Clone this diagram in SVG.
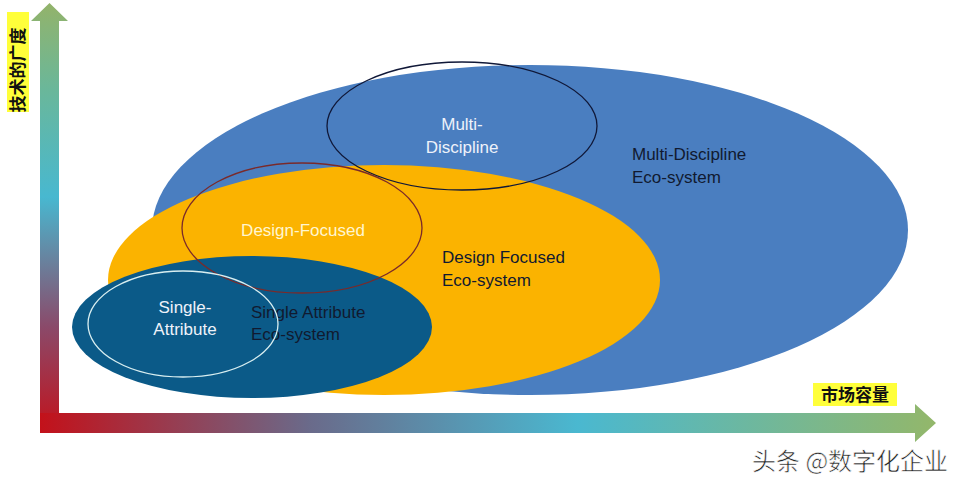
<svg xmlns="http://www.w3.org/2000/svg" width="966" height="486" viewBox="0 0 966 486">
<defs>
<linearGradient id="gv" x1="0" y1="0" x2="0" y2="1">
<stop offset="0" stop-color="#93b36a"/>
<stop offset="0.2" stop-color="#6ab79a"/>
<stop offset="0.45" stop-color="#48b8d0"/>
<stop offset="0.75" stop-color="#8a4a6a"/>
<stop offset="1" stop-color="#c3111a"/>
</linearGradient>
<linearGradient id="gh" x1="0" y1="0" x2="1" y2="0">
<stop offset="0" stop-color="#c3111a"/>
<stop offset="0.3" stop-color="#6a6a8a"/>
<stop offset="0.6" stop-color="#4ab8d0"/>
<stop offset="1" stop-color="#93b76a"/>
</linearGradient>
<style>
.lbl{font-family:"Liberation Sans",Arial,sans-serif;font-size:17px}
.w{fill:#eef2fa}
.d{fill:#111a30}
.axis{font-family:"Noto Sans CJK SC",sans-serif;font-size:17px;font-weight:bold;fill:#111}
.ring{fill:none;stroke-width:1.3}
</style>
</defs>
<rect width="966" height="486" fill="#ffffff"/>
<g id="connectors">
<path d="M40,434 L40,21 L31,21 L49.5,3 L68,21 L59,21 L59,413 L40,413 Z" fill="url(#gv)"/>
<path d="M40,413 L915,413 L915,404 L936,423 L915,442 L915,433 L40,433 Z" fill="url(#gh)"/>
</g>
<g id="y-label">
<rect x="7" y="12" width="22" height="100" fill="#ffff3a"/>
<text class="axis" transform="translate(24,70) rotate(-90)" text-anchor="middle">技术的广度</text>
</g>
<g id="x-label">
<rect x="813" y="383" width="84" height="23" fill="#ffff3a"/>
<text class="axis" x="855" y="401" text-anchor="middle">市场容量</text>
</g>
<g id="multi-eco">
<ellipse cx="530" cy="230" rx="378" ry="165" fill="#4a7ec0"/>
<text class="lbl d" x="632" y="160">Multi-Discipline</text>
<text class="lbl d" x="632" y="183">Eco-system</text>
</g>
<g id="design-eco">
<ellipse cx="384" cy="280" rx="276" ry="115" fill="#fbb300"/>
<text class="lbl d" x="442" y="263">Design Focused</text>
<text class="lbl d" x="442" y="286">Eco-system</text>
</g>
<g id="single-eco">
<ellipse cx="252" cy="327" rx="180" ry="71" fill="#0b5a88"/>
<text class="lbl d" x="251" y="318">Single Attribute</text>
<text class="lbl d" x="251" y="340">Eco-system</text>
</g>
<g id="multi">
<ellipse class="ring" cx="462" cy="126" rx="135" ry="64" stroke="#101838"/>
<text class="lbl w" x="462" y="130" text-anchor="middle">Multi-</text>
<text class="lbl w" x="462" y="153" text-anchor="middle">Discipline</text>
</g>
<g id="design">
<ellipse class="ring" cx="302" cy="228" rx="120" ry="65" stroke="#7a2a2a"/>
<text class="lbl" x="303" y="236" text-anchor="middle" fill="#fff6d0">Design-Focused</text>
</g>
<g id="single">
<ellipse class="ring" cx="183" cy="324" rx="95" ry="53" stroke="#d8eef0"/>
<text class="lbl w" x="185" y="313" text-anchor="middle">Single-</text>
<text class="lbl w" x="185" y="335" text-anchor="middle">Attribute</text>
</g>
<g id="watermark">
<text x="752" y="470" font-family="Noto Sans CJK SC,sans-serif" font-size="24" fill="#222" stroke="#fff" stroke-width="0.6">头条 @数字化企业</text>
</g>
</svg>
